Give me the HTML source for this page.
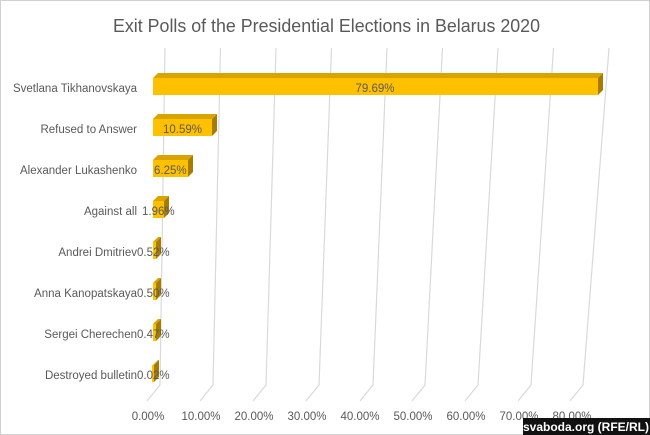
<!DOCTYPE html>
<html><head><meta charset="utf-8"><style>
html,body{margin:0;padding:0;background:#fff}
svg{display:block}
text{font-family:"Liberation Sans",sans-serif;fill:#595959}
</style></head><body>
<svg width="650" height="435" viewBox="0 0 650 435" xmlns="http://www.w3.org/2000/svg">
<rect x="0.5" y="0.5" width="649" height="434" fill="#fff" stroke="#d0d0d0"/>
<text x="113" y="32" font-size="18" textLength="427" lengthAdjust="spacingAndGlyphs">Exit Polls of the Presidential Elections in Belarus 2020</text>
<g stroke="#d9d9d9" stroke-width="1.2" fill="none">
<path d="M165,48 L160,385 L147,401"/>
<path d="M220.5,48 L213,385 L200,401"/>
<path d="M276,48 L266,385 L253,401"/>
<path d="M331.5,48 L319,385 L306,401"/>
<path d="M387,48 L373,385 L360,401"/>
<path d="M442.5,48 L425,385 L412,401"/>
<path d="M498,48 L478,385 L465,401"/>
<path d="M553.5,48 L531,385 L518,401"/>
<path d="M609,48 L583,385 L570,401"/>
</g>
<g font-size="11.5" text-anchor="middle">
<text x="148" y="420">0.00%</text><text x="201" y="420">10.00%</text><text x="254" y="420">20.00%</text>
<text x="307" y="420">30.00%</text><text x="360" y="420">40.00%</text><text x="413" y="420">50.00%</text>
<text x="466" y="420">60.00%</text><text x="519" y="420">70.00%</text><text x="572" y="420">80.00%</text>
</g>
<g font-size="11.5" text-anchor="end">
<text x="137" y="92">Svetlana Tikhanovskaya</text>
<text x="137" y="133">Refused to Answer</text>
<text x="137" y="174">Alexander Lukashenko</text>
<text x="137" y="215">Against all</text>
<text x="137" y="256">Andrei Dmitriev</text>
<text x="137" y="297">Anna Kanopatskaya</text>
<text x="137" y="338">Sergei Cherechen</text>
<text x="137" y="379">Destroyed bulletin</text>
</g>
<g>
<polygon points="153,78 158,73 603,73 598,78" fill="#D9A300"/>
<polygon points="598,78 603,73 603,90 598,95" fill="#A67D00"/>
<rect x="153" y="78" width="445" height="17" fill="#FFC000"/>

<polygon points="153,119 158,114 217,114 212,119" fill="#D9A300"/>
<polygon points="212,119 217,114 217,131 212,136" fill="#A67D00"/>
<rect x="153" y="119" width="59" height="17" fill="#FFC000"/>

<polygon points="153,160 158,155 193,155 188,160" fill="#D9A300"/>
<polygon points="188,160 193,155 193,172 188,177" fill="#A67D00"/>
<rect x="153" y="160" width="35" height="17" fill="#FFC000"/>

<polygon points="153,201 158,196 169,196 164,201" fill="#D9A300"/>
<polygon points="164,201 169,196 169,213 164,218" fill="#A67D00"/>
<rect x="153" y="201" width="11" height="17" fill="#FFC000"/>

<polygon points="153,242 158,237 161,237 156,242" fill="#D9A300"/>
<polygon points="156,242 161,237 161,254 156,259" fill="#A67D00"/>
<rect x="153" y="242" width="3" height="17" fill="#FFC000"/>

<polygon points="153,283 158,278 161,278 156,283" fill="#D9A300"/>
<polygon points="156,283 161,278 161,295 156,300" fill="#A67D00"/>
<rect x="153" y="283" width="3" height="17" fill="#FFC000"/>

<polygon points="153,324 158,319 161,319 156,324" fill="#D9A300"/>
<polygon points="156,324 161,319 161,336 156,341" fill="#A67D00"/>
<rect x="153" y="324" width="3" height="17" fill="#FFC000"/>

<polygon points="153,365 158,360 159,360 154,365" fill="#D9A300"/>
<polygon points="154,365 159,360 159,377 154,382" fill="#A67D00"/>
<rect x="152" y="365" width="2" height="17" fill="#FFC000"/>
</g>
<g font-size="11.5">
<text x="375" y="92" text-anchor="middle">79.69%</text>
<text x="163" y="133">10.59%</text>
<text x="154" y="174">6.25%</text>
<text x="142" y="215">1.96%</text>
<text x="137" y="256">0.52%</text>
<text x="137" y="297">0.50%</text>
<text x="137" y="338">0.47%</text>
<text x="137" y="379">0.02%</text>
</g>
<rect x="523" y="418" width="127" height="17" fill="#111"/>
<text x="586" y="431" font-size="12" font-weight="bold" text-anchor="middle" style="fill:#fff">svaboda.org (RFE/RL)</text>
</svg>
</body></html>
